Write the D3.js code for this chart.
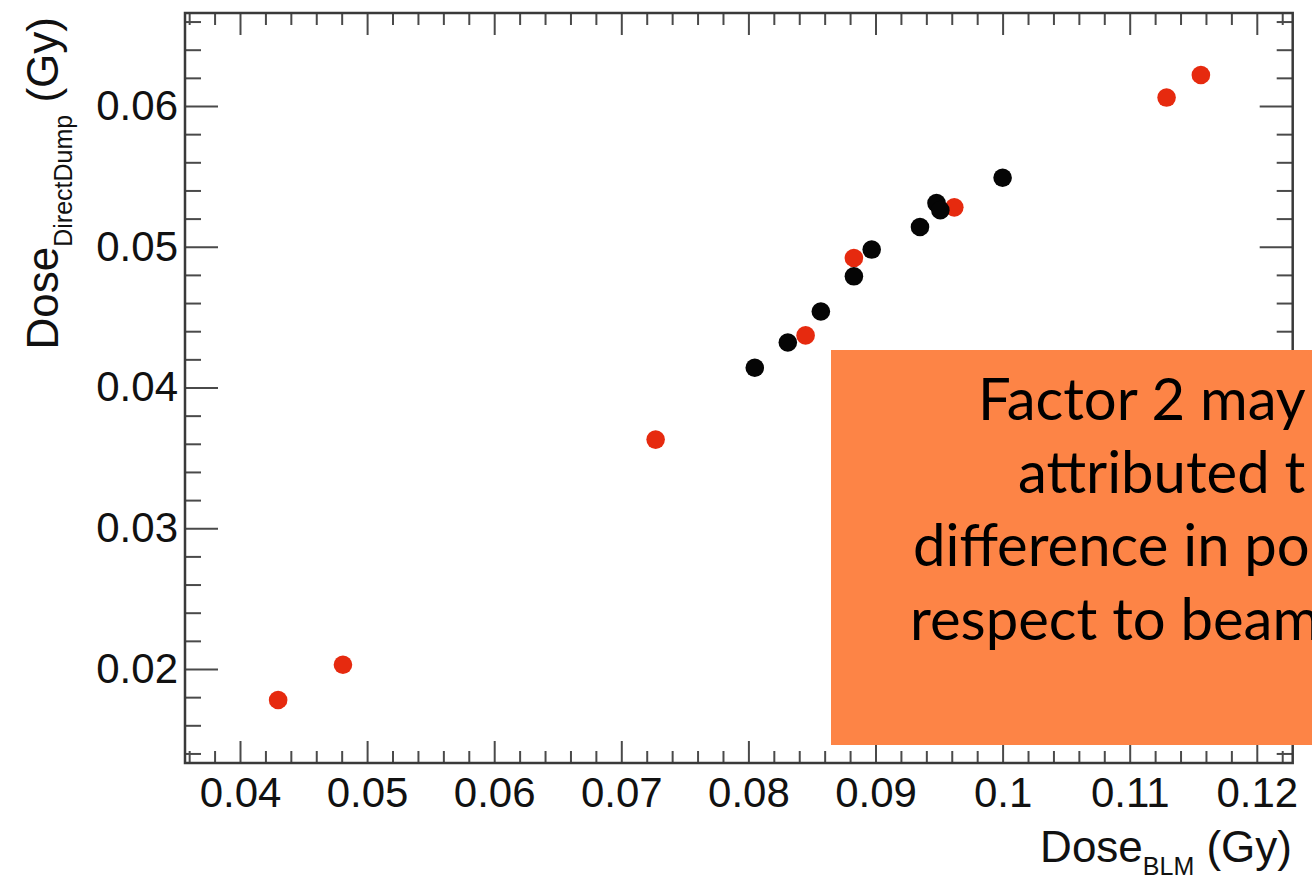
<!DOCTYPE html>
<html>
<head>
<meta charset="utf-8">
<script src="https://cdn.jsdelivr.net/npm/d3@7"></script>
<style>
  html, body { margin: 0; padding: 0; background: #fff; overflow: hidden; }
  svg { display: block; }
  text { font-family: "Liberation Sans", Arial, Helvetica, sans-serif; }
</style>
</head>
<body>
<svg id="chart" width="1312" height="881"></svg>
<script>
// ---- data ----
const redX   = [0.0430, 0.0481, 0.0727, 0.0845, 0.0883, 0.0962, 0.1129, 0.1156];
const redY   = [0.0178, 0.0203, 0.0363, 0.0437, 0.0492, 0.0528, 0.0606, 0.0622];
const blackX = [0.0805, 0.0831, 0.0857, 0.0883, 0.0897, 0.0935, 0.0948, 0.0951, 0.1000];
const blackY = [0.0414, 0.0432, 0.0454, 0.0479, 0.0498, 0.0514, 0.0531, 0.0526, 0.0549];
const xTickLabels = ["0.04", "0.05", "0.06", "0.07", "0.08", "0.09", "0.1", "0.11", "0.12"];
const yTickLabels = ["0.02", "0.03", "0.04", "0.05", "0.06"];
const noteLines = ["Factor 2 may", "attributed t", "difference in po", "respect to beam"];

const svg = d3.select("#chart");

// frame geometry
const L = 185, R = 1292.7, T = 13, B = 763;

const x = d3.scaleLinear()
  .domain([0.04 - (240 - L) / 12710, 0.04 + (R - 240) / 12710])
  .range([L, R]);
const y = d3.scaleLinear()
  .domain([0.06 - (B - 106) / 14075, 0.06 + (106 - T) / 14075])
  .range([B, T]);

const xMajor = xTickLabels.map(Number);
const yMajor = yTickLabels.map(Number);
const xMinor = d3.range(36, 123, 2).map(d => d / 1000).filter(v => !xMajor.some(m => Math.abs(m - v) < 1e-6));
const yMinor = d3.range(14, 67, 2).map(d => d / 1000).filter(v => !yMajor.some(m => Math.abs(m - v) < 1e-6));

const tickColor = "#4a4a4a";
function styleAxis(g, fontSize) {
  g.select(".domain").remove();
  g.selectAll("line").attr("stroke", tickColor).attr("stroke-width", 2);
  g.selectAll("text").attr("fill", "#111").style("font-size", fontSize + "px");
}

// bottom axis
svg.append("g").attr("transform", `translate(0,${B})`)
  .call(d3.axisBottom(x).tickValues(xMajor).tickFormat((d, i) => xTickLabels[i]).tickSize(-22).tickPadding(14))
  .call(g => styleAxis(g, 42));
svg.append("g").attr("transform", `translate(0,${B})`)
  .call(d3.axisBottom(x).tickValues(xMinor).tickFormat("").tickSize(-12))
  .call(g => styleAxis(g, 42));
// top axis
svg.append("g").attr("transform", `translate(0,${T})`)
  .call(d3.axisTop(x).tickValues(xMajor).tickFormat("").tickSize(-22))
  .call(g => styleAxis(g, 42));
svg.append("g").attr("transform", `translate(0,${T})`)
  .call(d3.axisTop(x).tickValues(xMinor).tickFormat("").tickSize(-12))
  .call(g => styleAxis(g, 42));
// left axis
svg.append("g").attr("transform", `translate(${L},0)`)
  .call(d3.axisLeft(y).tickValues(yMajor).tickFormat((d, i) => yTickLabels[i]).tickSize(-33).tickPadding(7))
  .call(g => styleAxis(g, 42));
svg.append("g").attr("transform", `translate(${L},0)`)
  .call(d3.axisLeft(y).tickValues(yMinor).tickFormat("").tickSize(-16))
  .call(g => styleAxis(g, 42));
// right axis
svg.append("g").attr("transform", `translate(${R},0)`)
  .call(d3.axisRight(y).tickValues(yMajor).tickFormat("").tickSize(-33))
  .call(g => styleAxis(g, 42));
svg.append("g").attr("transform", `translate(${R},0)`)
  .call(d3.axisRight(y).tickValues(yMinor).tickFormat("").tickSize(-16))
  .call(g => styleAxis(g, 42));

// frame
svg.append("rect")
  .attr("x", L).attr("y", T).attr("width", R - L).attr("height", B - T)
  .attr("fill", "none").attr("stroke", "#3a3a3a").attr("stroke-width", 2.5);

// points
const pr = 9.3;
svg.append("g").selectAll("circle").data(redX.map((v, i) => [v, redY[i]]))
  .join("circle")
  .attr("cx", d => x(d[0])).attr("cy", d => y(d[1])).attr("r", pr)
  .attr("fill", "#e62a0f");
svg.append("g").selectAll("circle").data(blackX.map((v, i) => [v, blackY[i]]))
  .join("circle")
  .attr("cx", d => x(d[0])).attr("cy", d => y(d[1])).attr("r", pr)
  .attr("fill", "#050505");

// axis titles
const xt = svg.append("text")
  .attr("x", 1292).attr("y", 862).attr("text-anchor", "end")
  .style("font-size", "44px").attr("fill", "#111");
xt.append("tspan").text("Dose");
xt.append("tspan").attr("dy", 13).style("font-size", "25px").text("BLM");
xt.append("tspan").attr("dy", -13).text(" (Gy)");

const yt = svg.append("text")
  .attr("transform", "translate(58,17) rotate(-90)")
  .attr("text-anchor", "end")
  .style("font-size", "44px").attr("fill", "#111");
yt.append("tspan").text("Dose");
yt.append("tspan").attr("dy", 14).style("font-size", "25px").text("DirectDump");
yt.append("tspan").attr("dy", -14).text(" (Gy)");

// annotation box
svg.append("rect")
  .attr("x", 831).attr("y", 350).attr("width", 500).attr("height", 395)
  .attr("fill", "#fd8446");
const noteX = [978, 1018, 913, 910];
const noteY = [420, 493, 566, 640];
svg.append("g").selectAll("text").data(noteLines).join("text")
  .attr("x", (d, i) => noteX[i]).attr("y", (d, i) => noteY[i])
  .style("font-family", "Lato, 'Open Sans', sans-serif")
  .style("font-size", "58px").attr("fill", "#000")
  .text(d => d);
</script>
</body>
</html>
